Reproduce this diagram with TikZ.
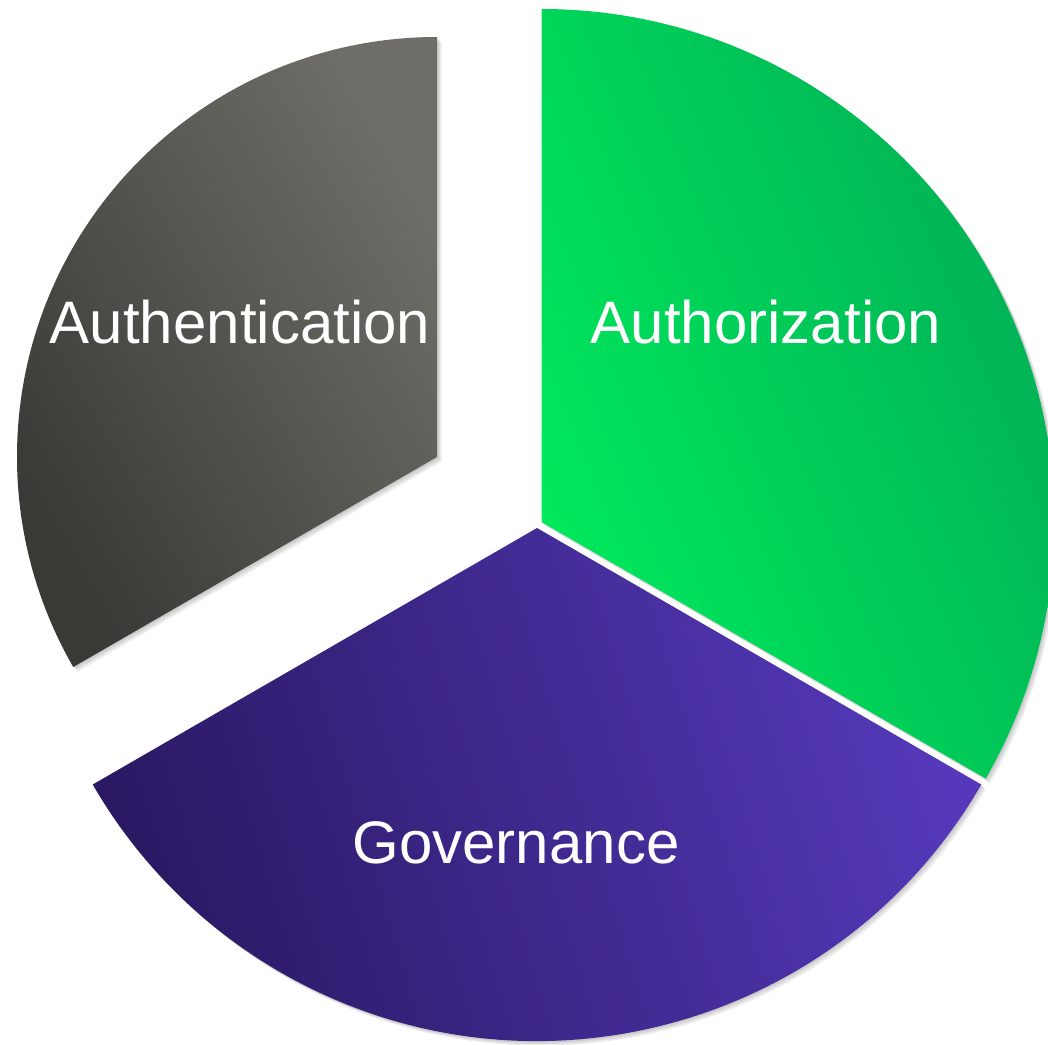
\documentclass[tikz,border=0pt]{standalone}
\usepackage{fontspec}
\setmainfont{Liberation Sans}
\definecolor{grayDark}{HTML}{3A3935}
\definecolor{grayLight}{HTML}{6E6D68}
\definecolor{greenBright}{HTML}{00EA5C}
\definecolor{greenDark}{HTML}{00AE55}
\definecolor{purpDark}{HTML}{2A1862}
\definecolor{purpLight}{HTML}{5539BA}
\tikzset{
  shadowfill/.style={fill=black, opacity=0.07},
  lbl/.style={text=white, anchor=base, inner sep=0pt, font=\fontsize{60}{72}\selectfont}
}
\begin{document}
\begin{tikzpicture}[x=1pt,y=1pt]
\useasboundingbox (0,0) rectangle (1048,-1044);
\fill[white] (0,0) rectangle (1048,-1044);
% shadows
\foreach \s in {1.5,3,4.5}{
  \fill[shadowfill] ([shift={(\s,-\s)}]541.5,-522) -- ++(90:513) arc (90:-30:513) -- cycle;
  \fill[shadowfill] ([shift={(\s,-\s)}]537,-528) -- ++(-30:513) arc (-30:-150:513) -- cycle;
  \fill[shadowfill] ([shift={(\s,-\s)}]437,-457) -- ++(90:420) arc (90:210:420) -- cycle;
}
% slices
\shade[top color=greenDark, bottom color=greenBright, shading angle=-68]
  (541.5,-522) -- ++(90:513) arc (90:-30:513) -- cycle;
\shade[top color=purpLight, bottom color=purpDark, shading angle=-73]
  (537,-528) -- ++(-30:513) arc (-30:-150:513) -- cycle;
\shade[top color=grayLight, bottom color=grayDark, shading angle=-60]
  (437,-457) -- ++(90:420) arc (90:210:420) -- cycle;
% labels
\node[lbl] (authn) at (240,-343) {Authentication};
\node[lbl] (authz) at (766,-343) {Authorization};
\node[lbl] (gov) at (516,-863) {Governance};
\end{tikzpicture}
\end{document}
